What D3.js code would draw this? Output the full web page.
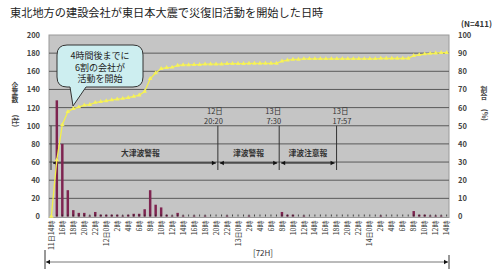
<!DOCTYPE html>
<html><head><meta charset="utf-8">
<script src="https://cdn.jsdelivr.net/npm/d3@7"></script>
<style>
html,body{margin:0;padding:0;background:#fff;}
text{font-family:"Noto Sans CJK JP","Noto Sans",sans-serif;}
.vt{writing-mode:vertical-rl;text-orientation:upright;}
</style></head>
<body><svg id="c" width="501" height="278"></svg>
<script>
// ---- data ----
const categories = [
 "11日14時","15時","16時","17時","18時","19時","20時","21時","22時","23時",
 "12日0時","1時","2時","3時","4時","5時","6時","7時","8時","9時","10時","11時","12時","13時","14時","15時","16時","17時","18時","19時","20時","21時","22時","23時",
 "13日0時","1時","2時","3時","4時","5時","6時","7時","8時","9時","10時","11時","12時","13時","14時","15時","16時","17時","18時","19時","20時","21時","22時","23時",
 "14日0時","1時","2時","3時","4時","5時","6時","7時","8時","9時","10時","11時","12時","13時","14時"];
const companies = [0,128,80,29,7,4,4,1,5,2,
 2,2,2,1,2,3,3,8,29,13,10,2,1,4,1,0,1,0,1,0,0,0,1,0,
 0,0,1,0,0,0,0,0,5,2,2,0,1,0,0,0,0,0,0,0,0,0,0,0,
 0,0,1,0,0,0,0,0,6,2,2,1,1,1,0];
const ratio = [0,31.1,50.6,57.7,59.4,60.3,61.3,61.6,62.8,63.3,
 63.7,64.2,64.7,65.0,65.5,66.2,66.9,68.9,75.9,79.1,81.5,82.0,82.2,83.2,83.5,83.5,83.7,83.7,83.9,83.9,83.9,83.9,84.2,84.2,
 84.2,84.2,84.4,84.4,84.4,84.4,84.4,84.4,85.6,86.1,86.6,86.6,86.9,86.9,86.9,86.9,86.9,86.9,86.9,86.9,86.9,86.9,86.9,86.9,
 86.9,86.9,87.1,87.1,87.1,87.1,87.1,87.1,88.6,89.1,89.5,89.8,90.0,90.3,90.3];
const leftTicks = [0,20,40,60,80,100,120,140,160,180,200];
const rightTicks = [0,10,20,30,40,50,60,70,80,90,100];
const periods = [
 {label:"大津波警報", from:0.78, to:30.33},
 {label:"津波警報", from:30.33, to:41.5},
 {label:"津波注意報", from:41.5, to:51.95}];
const markers = [
 {t:30.33, l1:"12日", l2:"20:20", anchor:"end", dx:5},
 {t:41.5, l1:"13日", l2:"7:30", anchor:"end", dx:2},
 {t:51.95, l1:"13日", l2:"17:57", anchor:"start", dx:-4}];
const title = "東北地方の建設会社が東日本大震で災復旧活動を開始した日時";
const calloutLines = ["4時間後までに","6割の会社が","活動を開始"];

// ---- layout ----
const svg = d3.select("#c");
const L=49, R=449, T=35, B=216.5;
const x = d3.scaleBand().domain(d3.range(categories.length)).range([L,R]).paddingInner(0.55).paddingOuter(0.2);
const step = x.step();
const xc = i => x(i) + x.bandwidth()/2;
const xt = t => xc(0) + t*step; // hours since 11日14時
const y = d3.scaleLinear().domain([0,200]).range([B,T]);
const y2 = d3.scaleLinear().domain([0,100]).range([B,T]);

svg.append("text").attr("x",10).attr("y",17).attr("font-size",11.2).attr("fill","#222").text(title);
svg.append("text").attr("x",492).attr("y",26.5).attr("text-anchor","end").attr("font-size",8).attr("font-weight","bold").attr("fill","#333").text("(N=411)");

// plot background
svg.append("rect").attr("x",L).attr("y",T).attr("width",R-L).attr("height",B-T+1).attr("fill","#c5c5c5").attr("stroke","#9a9a9a").attr("stroke-width",1);

// grid
svg.append("g").selectAll("line").data(leftTicks.filter(d=>d>0&&d<200)).join("line")
 .attr("x1",L).attr("x2",R).attr("y1",d=>y(d)).attr("y2",d=>y(d)).attr("stroke","#5a5a5a").attr("stroke-width",1);

// left axis labels
const yAxis = d3.axisLeft(y).tickValues(leftTicks).tickSize(0).tickPadding(9);
const gy = svg.append("g").attr("transform",`translate(${L},0)`).call(yAxis);
gy.select(".domain").remove();
gy.selectAll("text").attr("font-size",7.5).attr("font-weight","bold").attr("fill","#444").attr("font-family","Arial, 'Liberation Sans', sans-serif");
const yAxis2 = d3.axisRight(y2).tickValues(rightTicks).tickSize(0).tickPadding(9);
const gy2 = svg.append("g").attr("transform",`translate(${R},0)`).call(yAxis2);
gy2.select(".domain").remove();
gy2.selectAll("text").attr("font-size",7.5).attr("font-weight","bold").attr("fill","#444").attr("font-family","Arial, 'Liberation Sans', sans-serif");

// axis titles (vertical)
svg.append("text").attr("class","vt").attr("x",15).attr("y",82).attr("font-size",6.8).attr("font-weight","bold").attr("fill","#444").text("企業数");
svg.append("text").attr("transform","translate(12.5,121) rotate(90)").attr("text-anchor","middle").attr("font-size",7).attr("font-weight","bold").attr("fill","#444").text("(社)");
svg.append("text").attr("class","vt").attr("x",484).attr("y",86).attr("font-size",6.8).attr("font-weight","bold").attr("fill","#444").text("割合");
svg.append("text").attr("transform","translate(481.5,115) rotate(90)").attr("text-anchor","middle").attr("font-size",7).attr("font-weight","bold").attr("fill","#444").text("(%)");

// period annotations
const ann = svg.append("g");
markers.forEach(m=>{
  const xx = xt(m.t);
  ann.append("line").attr("x1",xx).attr("x2",xx).attr("y1",y(100)).attr("y2",170).attr("stroke","#333").attr("stroke-width",1);
  ann.append("text").attr("x",xx+m.dx).attr("y",114).attr("text-anchor",m.anchor).attr("font-size",7.5).attr("fill","#333").text(m.l1);
  ann.append("text").attr("x",xx+m.dx).attr("y",124).attr("text-anchor",m.anchor).attr("font-size",7.5).attr("fill","#333").text(m.l2);
});
ann.append("line").attr("x1",51).attr("x2",51).attr("y1",y(100)).attr("y2",170).attr("stroke","#333").attr("stroke-width",1);
const ay = 163;
function arrowHead(g,xx,yy,dir){
  g.append("path").attr("d",`M${xx},${yy} l${-dir*4},-2.2 l0,4.4 Z`).attr("fill","#111");
}
periods.forEach((p,i)=>{
  const x1 = (i===0?51:xt(p.from))+2, x2 = xt(p.to)-2;
  ann.append("line").attr("x1",x1).attr("x2",x2).attr("y1",ay).attr("y2",ay).attr("stroke","#111").attr("stroke-width",1);
  arrowHead(ann,x1,ay,-1); arrowHead(ann,x2,ay,1);
  ann.append("text").attr("x",(x1+x2)/2+(i===0?6:0)).attr("y",156).attr("text-anchor","middle").attr("font-size",7.8).attr("font-weight","bold").attr("fill","#333").text(p.label);
});

// bars
svg.append("g").selectAll("rect").data(companies).join("rect")
 .attr("x",(d,i)=>x(i)).attr("width",x.bandwidth()).attr("y",d=>y(d)).attr("height",d=>B-y(d))
 .attr("fill","#7e2450");

// x ticks (inner)
svg.append("g").selectAll("line").data(categories).join("line")
 .attr("x1",(d,i)=>xc(i)).attr("x2",(d,i)=>xc(i)).attr("y1",B).attr("y2",B-2).attr("stroke","#222").attr("stroke-width",0.8);

// line
const line = d3.line().x((d,i)=>xc(i)).y(d=>y2(d));
svg.append("path").datum(ratio).attr("d",line).attr("fill","none").attr("stroke","#f4f04a").attr("stroke-width",1.3);
svg.append("g").selectAll("path").data(ratio).join("path")
 .attr("transform",(d,i)=>`translate(${xc(i)},${y2(d)})`)
 .attr("d",d3.symbol(d3.symbolTriangle,9)).attr("fill","#f6f25a");

// x labels
svg.append("g").selectAll("text").data(categories.map((c,i)=>({c,i})).filter(d=>d.i%2===0)).join("text")
 .attr("transform",d=>`translate(${xc(d.i)+2.6},${B+4}) rotate(-90)`)
 .attr("text-anchor","end").attr("font-size",7).attr("fill","#333").text(d=>d.c);

// bottom 72H arrow
const by=262;
svg.append("line").attr("x1",45).attr("x2",45).attr("y1",250).attr("y2",269).attr("stroke","#333");
svg.append("line").attr("x1",R).attr("x2",R).attr("y1",255).attr("y2",269).attr("stroke","#333");
svg.append("line").attr("x1",46).attr("x2",R-1).attr("y1",by).attr("y2",by).attr("stroke","#777").attr("stroke-width",1);
arrowHead(svg,46,by,-1); arrowHead(svg,R-1,by,1);
svg.append("text").attr("x",263).attr("y",256).attr("text-anchor","middle").attr("font-size",8).attr("fill","#333").text("[72H]");

// callout
const cx0=57, cy0=45, cx1=143, cy1=87, r=10;
const tailL=70, tailR=86, tipX=73, tipY=106;
const cp = `M${cx0+r},${cy0} H${cx1-r} Q${cx1},${cy0} ${cx1},${cy0+r} V${cy1-r} Q${cx1},${cy1} ${cx1-r},${cy1} H${tailR} L${tipX},${tipY} L${tailL},${cy1} H${cx0+r} Q${cx0},${cy1} ${cx0},${cy1-r} V${cy0+r} Q${cx0},${cy0} ${cx0+r},${cy0} Z`;
svg.append("path").attr("d",cp).attr("fill","#cdeef0").attr("stroke","#333").attr("stroke-width",1);
calloutLines.forEach((t,i)=>svg.append("text").attr("x",100).attr("y",59+i*11.5).attr("text-anchor","middle").attr("font-size",9).attr("fill","#222").text(t));
</script></body></html>
